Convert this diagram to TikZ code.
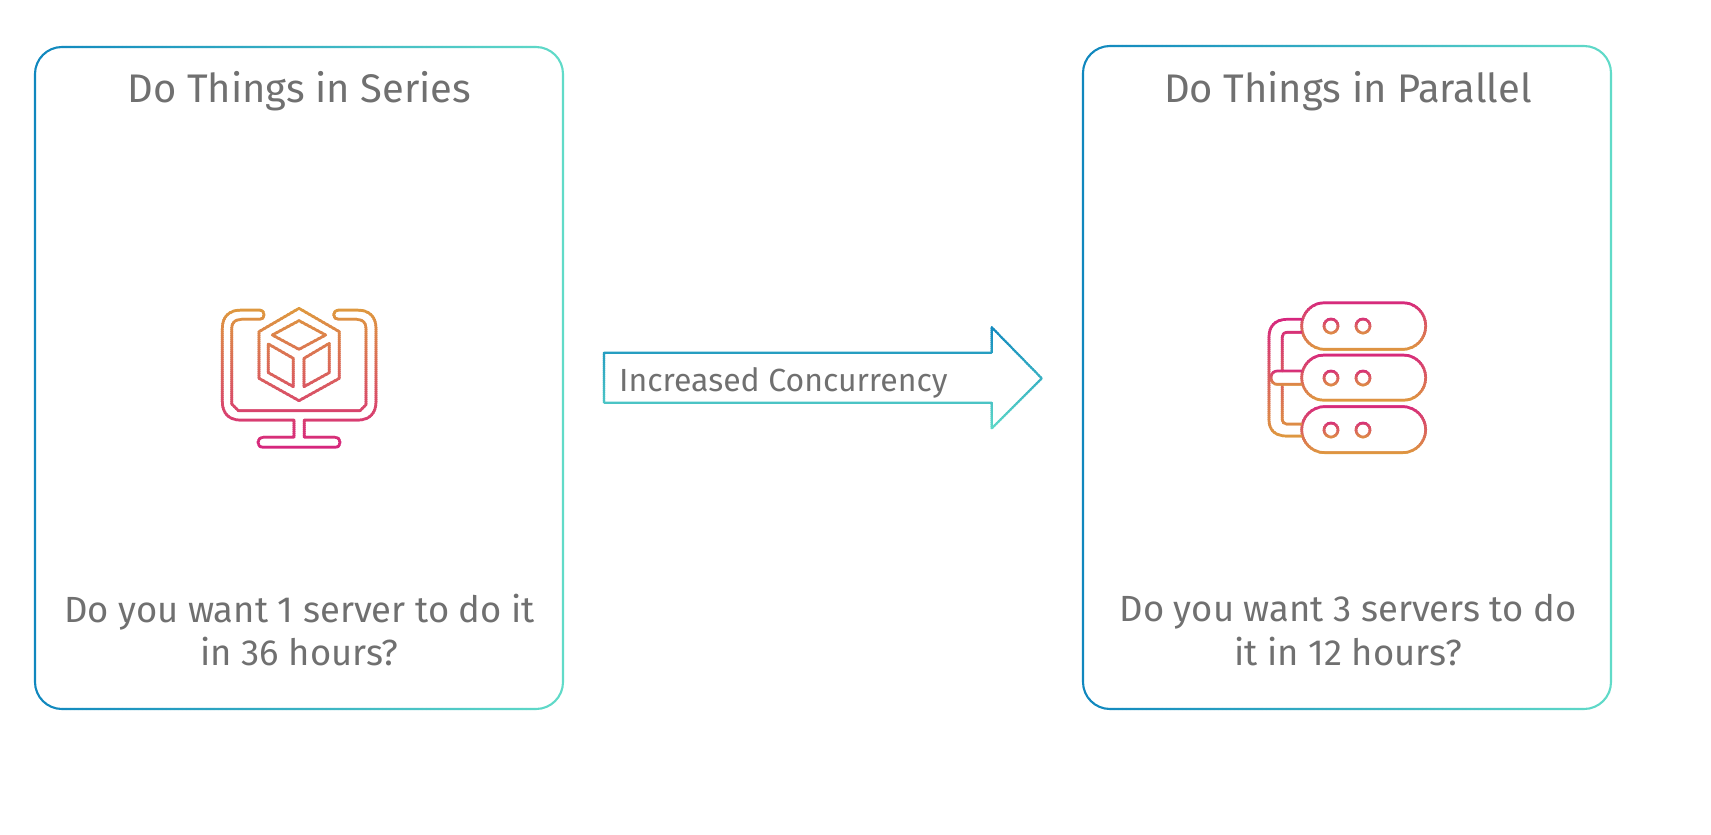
\documentclass[tikz,border=0pt]{standalone}
\usepackage{fontspec}
\setmainfont{Fira Sans}
\definecolor{txtgrey}{HTML}{707070}
\definecolor{cblue}{HTML}{0F86BE}
\definecolor{cteal}{HTML}{62DCC8}
\definecolor{corange}{HTML}{DE9A3E}
\definecolor{cpink}{HTML}{D6247F}
\tikzset{
  heading/.style={text=txtgrey,font=\fontsize{39.9}{39.9}\selectfont,inner sep=0pt,anchor=base},
  bodytext/.style={text=txtgrey,font=\fontsize{36.4}{43.5}\selectfont,inner sep=0pt,anchor=center,align=center},
  smalltext/.style={text=txtgrey,font=\fontsize{32}{32}\selectfont,inner sep=0pt,anchor=base west},
  gline/.style={line width=#1,line join=round,line cap=round},
}
% gradient strokes: strips on whole output pixels, so their edges do not show
% horizontal: x0,x1,y0,y1,from,to,width,path
\newcommand{\hgrad}[8]{%
  \pgfmathtruncatemacro{\nn}{(#2-#1)/\gstep-1}%
  \foreach \i in {0,...,\nn}{%
    \pgfmathsetmacro{\pa}{#1+\gstep*\i}%
    \pgfmathsetmacro{\pb}{#1+\gstep*(\i+1.01)}%
    \pgfmathsetmacro{\mx}{100/(\nn+1)*(\i+.5)}%
    \begin{scope}
      \clip (\pa,#3) rectangle (\pb,#4);
      \draw[gline=#7,draw=#6!\mx!#5] #8;
    \end{scope}}}
% vertical: x0,x1,y0,y1,from,to,width,path
\newcommand{\vgrad}[8]{%
  \pgfmathtruncatemacro{\nn}{(#4-#3)/\gstep-1}%
  \foreach \i in {0,...,\nn}{%
    \pgfmathsetmacro{\pa}{#3+\gstep*\i}%
    \pgfmathsetmacro{\pb}{#3+\gstep*(\i+1.01)}%
    \pgfmathsetmacro{\mx}{100/(\nn+1)*(\i+.5)}%
    \begin{scope}
      \clip (#1,\pa) rectangle (#2,\pb);
      \draw[gline=#7,draw=#6!\mx!#5] #8;
    \end{scope}}}
\begin{document}
\begin{tikzpicture}[x=1pt,y=-1pt]
\useasboundingbox (0,0) rectangle (1711,835);
% cards
\def\gstep{4}
\hgrad{30}{570}{40}{715}{cblue}{cteal}{2.1pt}{[rounded corners=27pt] (35,47) rectangle (563,709)}
\hgrad{1078}{1618}{40}{715}{cblue}{cteal}{2.1pt}{[rounded corners=27pt] (1083,46) rectangle (1611,709)}
% arrow
\def\gstep{2}
\vgrad{600}{1050}{322}{434}{cblue}{cteal}{2.1pt}{(604,352.7) -- (991.7,352.7) -- (991.7,327.3) -- (1041.7,378.3) -- (991.7,428.3) -- (991.7,402.7) -- (604,402.7) -- cycle}
% monitor icon
\def\gstep{6}
\begin{scope}[shift={(180,280)},x=.3333333pt,y=-.3333333pt]
\vgrad{110}{605}{81}{513}{corange}{cpink}{2.7pt}{
  (240,90) .. controls (248,90) and (252,97) .. (252,104) .. controls (252,112) and (248,118) .. (240,118)
  -- (185,118) .. controls (165,118) and (155,128) .. (155,145) -- (155,372) -- (175,392) -- (540,392) -- (558,374)
  -- (558,145) .. controls (558,128) and (548,118) .. (530,118) -- (475,118)
  .. controls (467,118) and (461,112) .. (461,104) .. controls (461,97) and (467,90) .. (475,90)
  -- (530,90) .. controls (568,90) and (588,110) .. (588,145) -- (588,365) .. controls (588,400) and (568,420) .. (535,420)
  -- (373,420) -- (373,472) -- (465,472) .. controls (476,472) and (480,480) .. (480,487) .. controls (480,495) and (476,502) .. (465,502)
  -- (250,502) .. controls (239,502) and (234,495) .. (234,487) .. controls (234,480) and (239,472) .. (250,472)
  -- (342,472) -- (342,420) -- (180,420) .. controls (147,420) and (127,400) .. (127,365) -- (127,145)
  .. controls (127,110) and (147,90) .. (185,90) -- cycle
  (357,85) -- (478,155) -- (478,295) -- (357,362) -- (237,295) -- (237,155) -- cycle
  (357,122) -- (437,165) -- (357,208) -- (277,165) -- cycle
  (265,192) -- (340,235) -- (340,320) -- (265,278) -- cycle
  (448,190) -- (372,235) -- (372,320) -- (448,278) -- cycle}
\end{scope}
% server icon
\begin{scope}[shift={(1240,280)},x=.3333333pt,y=-.3333333pt]
\vgrad{175}{565}{60}{216}{cpink}{corange}{2.7pt}{[rounded corners=23pt] (185,68) rectangle (557,208)}
\vgrad{175}{565}{216}{369}{cpink}{corange}{2.7pt}{[rounded corners=22.5pt] (185,225) rectangle (557,361)}
\vgrad{175}{565}{369}{525}{cpink}{corange}{2.7pt}{[rounded corners=23pt] (185,380) rectangle (557,518)}
\vgrad{240}{400}{108}{168}{cpink}{corange}{2.7pt}{(273,138) circle[radius=21] (369,138) circle[radius=21]}
\vgrad{240}{400}{264}{324}{cpink}{corange}{2.7pt}{(273,294) circle[radius=21] (369,294) circle[radius=21]}
\vgrad{240}{400}{420}{480}{cpink}{corange}{2.7pt}{(273,450) circle[radius=21] (369,450) circle[radius=21]}
\vgrad{75}{186}{111}{477}{cpink}{corange}{2.7pt}{(185,118) -- (140,118) .. controls (105,118) and (87,140) .. (87,170) -- (87,420) .. controls (87,450) and (105,468) .. (140,468) -- (185,468)
  (185,157) -- (140,157) .. controls (132,157) and (127,162) .. (127,170) -- (127,273)
  (127,313) -- (127,420) .. controls (127,427) and (132,432) .. (140,432) -- (185,432)}
\vgrad{85}{186}{267}{321}{cpink}{corange}{2.7pt}{(185,273) -- (112,273) .. controls (100,273) and (93,282) .. (93,293) .. controls (93,304) and (100,313) .. (112,313) -- (185,313)}
\end{scope}
% texts
\node[heading] (t1) at (299.5,102) {Do Things in Series};
\node[heading] (t2) at (1348,102) {Do Things in Parallel};
\node[bodytext] (b1) at (299.5,630) {Do you want 1 server to do it\\in 36 hours?};
\node[bodytext] (b2) at (1348,630) {Do you want 3 servers to do\\it in 12 hours?};
\node[smalltext] (lab) at (619,391) {Increased Concurrency};
\end{tikzpicture}
\end{document}
